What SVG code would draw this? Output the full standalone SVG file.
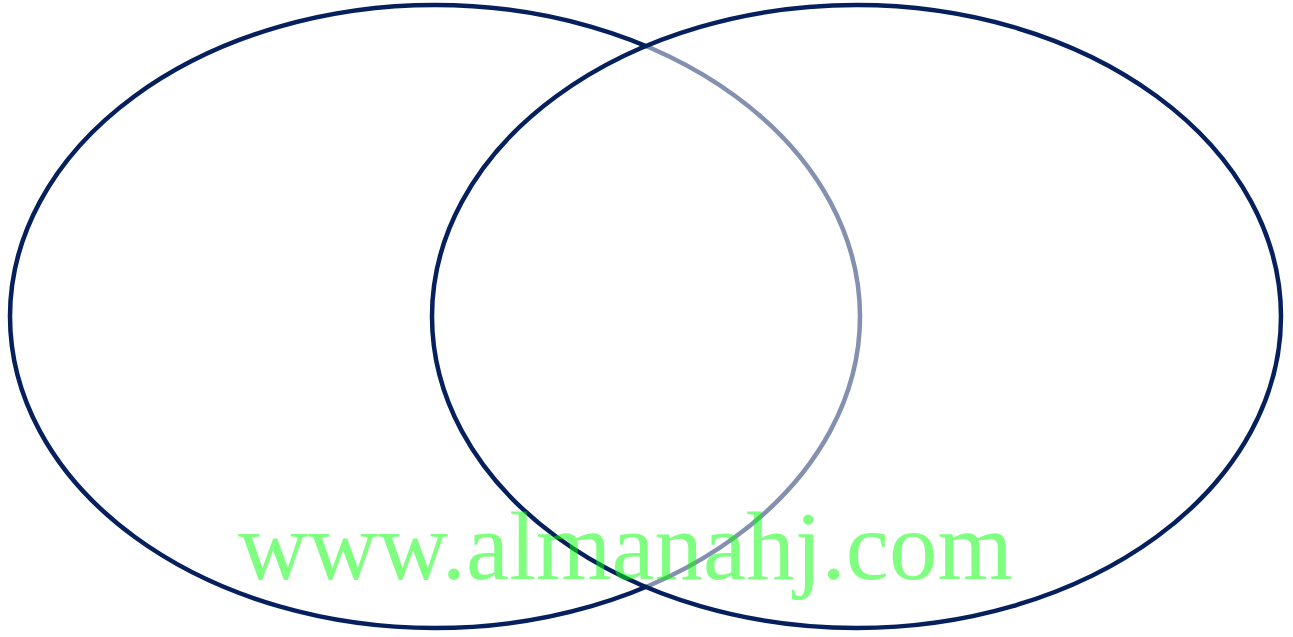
<svg xmlns="http://www.w3.org/2000/svg" width="1293" height="637" viewBox="0 0 1293 637">
<style>
.ring{stroke:#06205e;stroke-width:4.5}
.wm{font-family:"Liberation Serif",serif;font-size:97px;fill:#00ff00;fill-opacity:0.5}
</style>
<rect width="1293" height="637" fill="#ffffff"/>
<g id="left-set"><ellipse class="ring" cx="435" cy="316.5" rx="425" ry="311.5" fill="#ffffff"/></g>
<g id="right-set"><ellipse class="ring" cx="856.5" cy="316.5" rx="424.5" ry="311.5" fill="#ffffff" fill-opacity="0.5"/></g>
<g id="connectors"></g>
<text class="wm" x="238" y="579">www.almanahj.com</text>
</svg>
